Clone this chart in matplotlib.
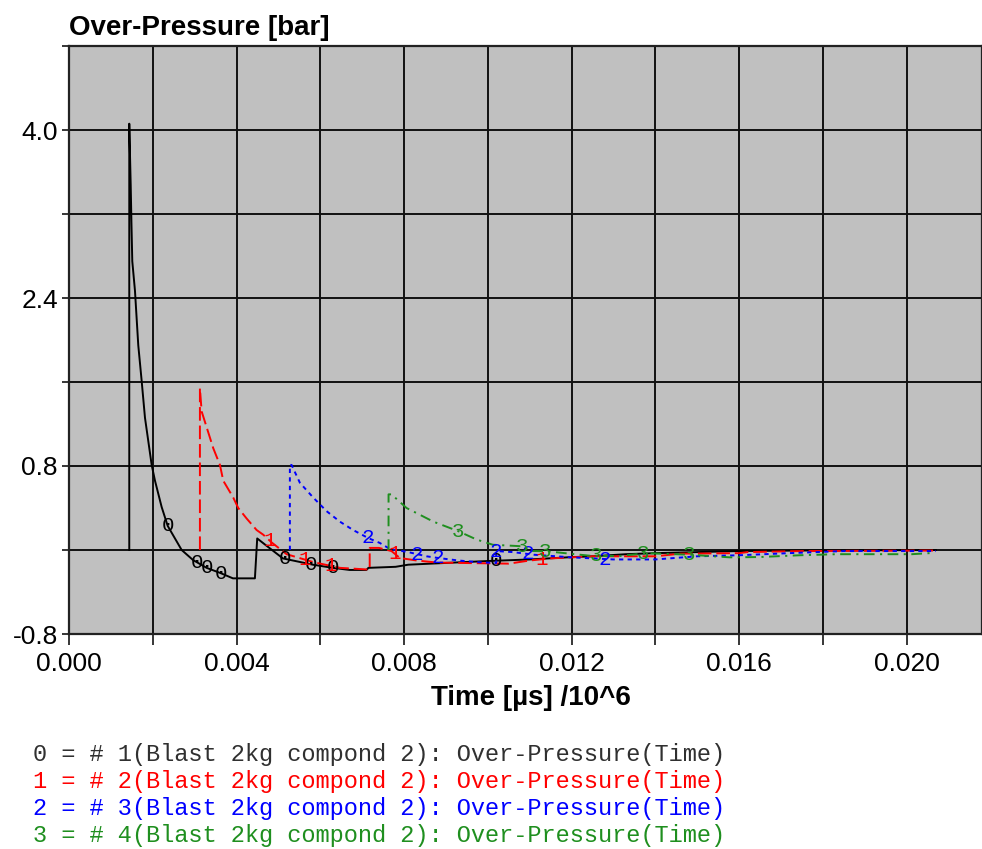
"""Over-pressure time histories for four blast gauges."""

import numpy as np
import matplotlib
matplotlib.use("Agg")
import matplotlib.pyplot as plt
from matplotlib.ticker import MultipleLocator, FuncFormatter

plt.rcParams["font.family"] = ["Liberation Sans", "DejaVu Sans"]
plt.rcParams["axes.unicode_minus"] = False

# gauge 1
t0 = [0.001439, 0.001439, 0.001473, 0.001490, 0.001511, 0.001575, 0.001654,
      0.001735, 0.001814, 0.001974, 0.002053, 0.002212, 0.002356, 0.00269,
      0.00296, 0.003286, 0.00362, 0.003914, 0.004439, 0.004494, 0.004718,
      0.005107, 0.005823, 0.006301, 0.0067, 0.0071, 0.00715, 0.0078, 0.0081,
      0.0089, 0.0100, 0.0110, 0.0119, 0.0125, 0.0133, 0.0140, 0.0150, 0.0160,
      0.0175, 0.0207]
p0 = [0.0, 4.06, 3.48, 3.13, 2.75, 2.47, 1.95,
      1.61, 1.26, 0.81, 0.66, 0.41, 0.23, 0.0,
      -0.095, -0.17, -0.22, -0.27, -0.27, 0.11, 0.04,
      -0.08, -0.14, -0.17, -0.19, -0.19, -0.17, -0.16, -0.14,
      -0.125, -0.105, -0.09, -0.07, -0.06, -0.04, -0.03, -0.02, -0.01,
      -0.005, 0.0]
mark_t0 = [0.002356, 0.003046, 0.003286, 0.00362, 0.005155, 0.00579,
           0.00631, 0.01020]

# gauge 2
t1 = [0.003126, 0.003126, 0.003167, 0.003365, 0.003444, 0.003604, 0.003683,
      0.003921, 0.004041, 0.004241, 0.00448, 0.004637, 0.004845, 0.005196,
      0.00583, 0.006468, 0.007105, 0.00718, 0.00718, 0.0074, 0.0077, 0.0079,
      0.0083, 0.0088, 0.0105, 0.0110, 0.0115, 0.0125, 0.0140, 0.0146, 0.0160,
      0.0162, 0.0175, 0.0207]
p1 = [0.0, 1.54, 1.32, 1.07, 0.97, 0.81, 0.66,
      0.50, 0.40, 0.30, 0.19, 0.146, 0.07, -0.04,
      -0.115, -0.17, -0.185, -0.185, 0.02, 0.02, -0.01, -0.076,
      -0.10, -0.12, -0.13, -0.10, -0.08, -0.06, -0.06, -0.035, -0.03,
      -0.02, -0.01, -0.005]
mark_t1 = [0.00479, 0.00562, 0.00625, 0.00777, 0.01128]

# gauge 3
t2 = [0.005274, 0.005274, 0.005315, 0.005513, 0.00583, 0.00615, 0.006468,
      0.006785, 0.007143, 0.007422, 0.007661, 0.0081, 0.008537, 0.008814,
      0.0093, 0.0098, 0.0102, 0.0102, 0.0106, 0.0111, 0.0120, 0.0130, 0.0140,
      0.0150, 0.0160, 0.0172, 0.0185, 0.0207]
p2 = [0.0, 0.81, 0.81, 0.64, 0.50, 0.37, 0.27,
      0.19, 0.114, 0.067, 0.01, -0.02, -0.06, -0.076,
      -0.10, -0.117, -0.124, -0.01, -0.02, -0.045, -0.07, -0.09, -0.09,
      -0.06, -0.05, -0.03, -0.01, -0.01]
mark_t2 = [0.00714, 0.00830, 0.00881, 0.01020, 0.01096, 0.01279]

# gauge 4
t3 = [0.00763, 0.00763, 0.0077, 0.00806, 0.0087, 0.00929, 0.00973, 0.01012,
      0.01084, 0.01107, 0.0114, 0.0125, 0.01315, 0.01379, 0.01482, 0.01578,
      0.01649, 0.01745, 0.01833, 0.02012, 0.02055]
p3 = [0.0, 0.53, 0.53, 0.40, 0.27, 0.18, 0.10, 0.05,
      0.035, -0.01, -0.012, -0.057, -0.057, -0.03, -0.045, -0.07,
      -0.067, -0.05, -0.04, -0.04, -0.03]
mark_t3 = [0.00929, 0.01082, 0.01137, 0.01258, 0.0137, 0.0148]

labels = [
    "0 = # 1(Blast 2kg compond 2): Over-Pressure(Time)",
    "1 = # 2(Blast 2kg compond 2): Over-Pressure(Time)",
    "2 = # 3(Blast 2kg compond 2): Over-Pressure(Time)",
    "3 = # 4(Blast 2kg compond 2): Over-Pressure(Time)",
]

series = [(t0, p0, mark_t0), (t1, p1, mark_t1), (t2, p2, mark_t2), (t3, p3, mark_t3)]
colours = ["#000000", "#ff0000", "#0000ff", "#1f8f1f"]
legend_colours = ["#303030", "#ff0000", "#0000ff", "#1f8f1f"]
styles = ["-", (0, (7, 2.5)), (0, (2.2, 2.2)), (0, (5.5, 2.8, 1.1, 2.8))]

fig = plt.figure(figsize=(9.82, 8.49), dpi=100)
ax = fig.add_axes([69 / 982, 1 - 634 / 849, (982 - 69) / 982, (634 - 46) / 849])
ax.set_facecolor("#c0c0c0")

for i, (t, p, mt) in enumerate(series):
    ax.plot(t, p, color=colours[i], linestyle=styles[i], lw=1.4, zorder=3)
    # curve id digits sitting on the line
    my = np.interp(mt, t, p)
    for x, y in zip(mt, my):
        ax.text(x, y, str(i), color=colours[i], fontsize=15, family="Liberation Mono",
                ha="center", va="center", zorder=4)

ax.set_xlim(0, 0.0218)
ax.set_ylim(-0.8, 4.8)
ax.xaxis.set_major_locator(MultipleLocator(0.002))
ax.yaxis.set_major_locator(MultipleLocator(0.8))


def x_fmt(v, pos):
    k = v / 0.004
    return f"{v:.3f}" if abs(k - round(k)) < 1e-6 else ""


def y_fmt(v, pos):
    k = (v + 0.8) / 1.6
    return f"{v:.1f}" if abs(k - round(k)) < 1e-6 else ""


ax.xaxis.set_major_formatter(FuncFormatter(x_fmt))
ax.yaxis.set_major_formatter(FuncFormatter(y_fmt))
ax.tick_params(axis="x", direction="out", length=8, width=1.1, pad=5, labelsize=19)
ax.tick_params(axis="y", direction="out", length=5, width=1.1, pad=3, labelsize=19)
ax.grid(True, color="#111111", lw=1.4, zorder=1)
ax.set_axisbelow(True)
for s in ax.spines.values():
    s.set_color("#222222")
    s.set_linewidth(1.6)

fig.text(69 / 982, 1 - 35 / 849, "Over-Pressure [bar]", fontsize=20,
         fontweight="bold", ha="left", va="baseline")
fig.text(531 / 982, 1 - 698 / 849, "Time [µs] /10^6", fontsize=20,
         fontweight="bold", ha="center", va="center")

for i, lab in enumerate(labels):
    fig.text(33 / 982, 1 - (755 + i * 26.7) / 849, lab, color=legend_colours[i],
             fontsize=17, family="Liberation Mono", ha="left", va="center")

fig.savefig("out.png", dpi=100)
plt.close(fig)
